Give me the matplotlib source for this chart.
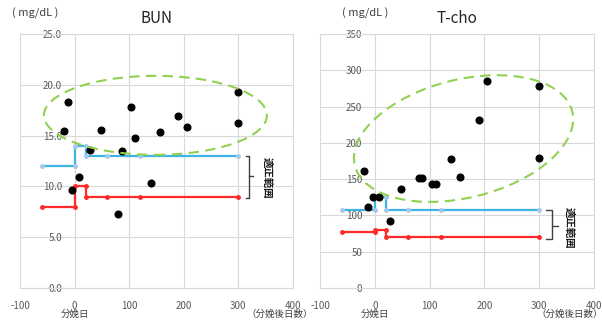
import matplotlib
matplotlib.use("Agg")
import matplotlib.pyplot as plt
from matplotlib.patches import Ellipse
from matplotlib.transforms import ScaledTranslation, blended_transform_factory

plt.rcParams['font.family'] = ['Noto Sans CJK JP', 'DejaVu Sans']
plt.rcParams['axes.unicode_minus'] = False

# days after delivery (shared by both panels)
days = [-20, -12, -4, 8, 28, 48, 80, 87, 104, 111, 140, 156, 190, 205, 300, 300]
bun = [15.5, 18.3, 9.65, 10.9, 13.55, 15.6, 7.3, 13.5, 17.8, 14.8, 10.3, 15.4, 16.9, 15.9, 19.3, 16.2]
tcho = [161, 112, 126, 126, 92, 136, 151, 151, 143, 143, 178, 153, 231, 286, 278, 179]

# reference range (step lines)
ref_x = [-60, 0, 0, 20, 20, 60, 120, 300]
bun_upper = [12, 12, 14, 14, 13, 13, 13, 13]
bun_lower = [8, 8, 10, 10, 9, 9, 9, 9]
tcho_upper = [107, 107, 125, 125, 107, 107, 107, 107]
tcho_lower = [77, 77, 80, 80, 70, 70, 70, 70]

x_ticks = [-100, 0, 100, 200, 300, 400]
bun_ticks = [0, 5, 10, 15, 20, 25]
tcho_ticks = [0, 50, 100, 150, 200, 250, 300, 350]

fig = plt.figure(figsize=(6.02, 3.21), dpi=100)
ax1 = fig.add_axes([0.0332, 0.1028, 0.4535, 0.791])
ax2 = fig.add_axes([0.5316, 0.1028, 0.455, 0.791])

panels = [
    (ax1, 'BUN', bun, bun_upper, bun_lower, bun_ticks, '{:.1f}',
     (148, 17.0, 2.23, 0.79, 0), (320, 314, 327, 13, 8.9, 11), (352, 10.9),
     375, -0.03),
    (ax2, 'T-cho', tcho, tcho_upper, tcho_lower, tcho_ticks, '{:.0f}',
     (162, 206, 2.24, 1.18, 14), (323, 313, 334, 108, 68, 86), (354, 83),
     356, 0.08),
]

for ax, title, vals, up, lo, yt, fmt, ell, br, txt, lblx, unitx in panels:
    ax.set_xlim(-100, 400)
    ax.set_ylim(yt[0], yt[-1])
    ax.set_xticks(x_ticks)
    ax.set_yticks(yt)
    ax.set_yticklabels([fmt.format(v) for v in yt])
    ax.grid(True, color='#d9d9d9', lw=0.8)
    ax.set_axisbelow(True)
    for s in ['top', 'right', 'bottom']:
        ax.spines[s].set_color('#d9d9d9')
        ax.spines[s].set_linewidth(0.8)
    ax.spines['left'].set_position(('data', -18))
    ax.spines['left'].set_visible(False)
    ax.tick_params(length=0, labelsize=7, colors='#595959')
    ax.tick_params(axis='x', pad=9)
    ax.tick_params(axis='y', pad=2)

    ax.plot(ref_x, up, color='#3cb4e6', lw=1.6, marker='o', ms=2.5,
            mfc='#a6c8ec', mec='#a6c8ec', zorder=3)
    ax.plot(ref_x, lo, color='#ff2a2a', lw=1.6, marker='o', ms=2.5, zorder=3)
    ax.plot(days, vals, 'o', color='black', ms=4.8, zorder=4)

    cx, cy, w, h, ang = ell
    tr = fig.dpi_scale_trans + ScaledTranslation(cx, cy, ax.transData)
    ax.add_patch(Ellipse((0, 0), w, h, angle=ang, transform=tr, fill=False,
                         ec='#92d050', lw=1.5, ls=(0, (5, 3)), zorder=5,
                         clip_on=False))

    bx, bl, bm, btop, bbot, bmid = br
    ax.plot([bl, bx, bx, bl], [btop, btop, bbot, bbot], color='#404040',
            lw=1.0, clip_on=False)
    ax.plot([bx, bm], [bmid, bmid], color='#404040', lw=1.0, clip_on=False)
    ax.text(txt[0], txt[1], '適正範囲', rotation=-90, ha='center', va='center',
            fontsize=7.5, fontweight='bold', color='#1a1a1a', clip_on=False)

    ax.set_title(title, fontsize=11, color='#262626', pad=8)
    ax.text(unitx, 1.06, '( mg/dL )', transform=ax.transAxes, fontsize=8,
            color='#404040', ha='left', va='bottom')

    bt = blended_transform_factory(ax.transData, fig.transFigure)
    ax.text(0, 0.02, '分娩日', transform=bt, fontsize=6.8, color='#404040',
            ha='center', va='center')
    ax.text(lblx, 0.02, '（分娩後日数）', transform=bt, fontsize=6.8,
            color='#404040', ha='center', va='center', clip_on=False)

fig.savefig('out.png', dpi=100)
